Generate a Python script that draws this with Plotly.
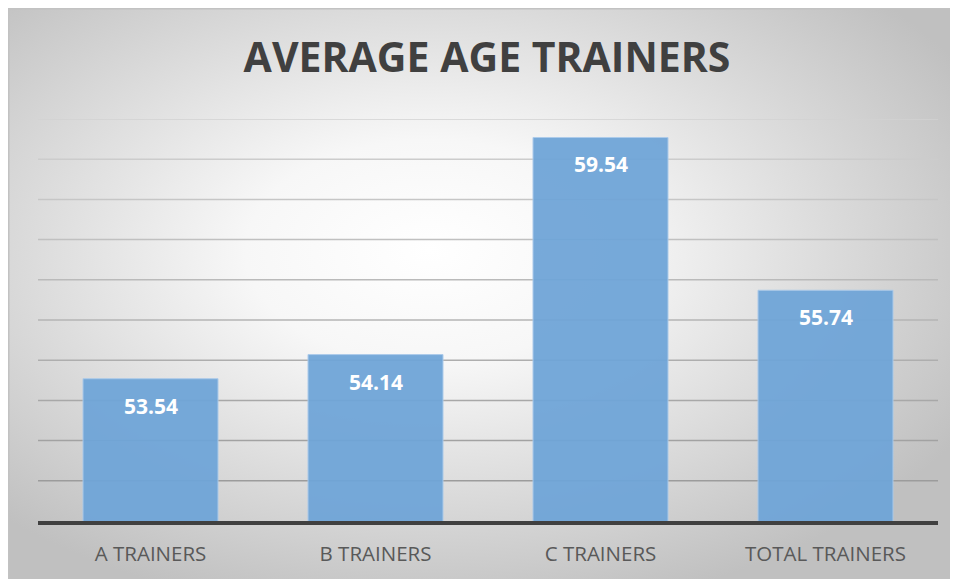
import base64
import plotly.graph_objects as go

categories = ["A TRAINERS", "B TRAINERS", "C TRAINERS", "TOTAL TRAINERS"]
avg_age = [53.54, 54.14, 59.54, 55.74]
labels = ["53.54", "54.14", "59.54", "55.74"]
title_text = "AVERAGE AGE TRAINERS"
y_min, y_max, y_step = 50, 60, 1

W, H = 958, 579
ml, mr, mt, mb = 30, 28, 111, 66
pw, ph = W - ml - mr, H - mt - mb

svg = f'''<svg xmlns="http://www.w3.org/2000/svg" width="{W}" height="{H}" viewBox="0 0 {W} {H}" preserveAspectRatio="none">
<defs><radialGradient id="g" cx="0.44" cy="0.42" r="0.64" fx="0.44" fy="0.42">
<stop offset="0" stop-color="#ffffff"/><stop offset="0.3" stop-color="#f7f7f7"/><stop offset="1" stop-color="#c0c0c0"/></radialGradient></defs>
<rect x="0" y="0" width="{W}" height="{H}" fill="url(#g)"/>
<path d="M0.75,{H} L0.75,0.75 L{W},0.75" stroke="#c2c2c2" stroke-width="1.5" fill="none"/></svg>'''
src = "data:image/svg+xml;base64," + base64.b64encode(svg.encode()).decode()

def px_x(v):
    return (v - ml) / pw

def px_y(v):
    return (H - mb - v) / ph

fig = go.Figure()

# gridlines (lighter toward the top, darker toward the bottom)
n_grid = int(round((y_max - y_min) / y_step))
for i in range(1, n_grid + 1):
    gv = y_min + i * y_step
    f = (i - 1) / max(n_grid - 1, 1)
    c = int(round(0x9c + (0xd2 - 0x9c) * f))
    fig.add_shape(type="line", xref="paper", yref="y", x0=0, x1=1, y0=gv, y1=gv,
                  line=dict(color=f"rgb({c},{c},{c})", width=1.5), layer="below")

fig.add_trace(go.Bar(
    x=categories, y=avg_age,
    marker=dict(color="#6fa5d8", line=dict(color="#a9c9ea", width=1)),
    opacity=0.94, width=0.6,
    hoverinfo="skip",
))

for c, v, t in zip(categories, avg_age, labels):
    fig.add_annotation(x=c, y=v, text=f"<b>{t}</b>", showarrow=False,
                       yanchor="middle", yshift=-27,
                       font=dict(family="Open Sans", size=21, color="white"))

fig.add_layout_image(dict(source=src, xref="paper", yref="paper",
                          x=px_x(0), y=px_y(0), sizex=px_x(W) - px_x(0),
                          sizey=px_y(0) - px_y(H), sizing="stretch",
                          xanchor="left", yanchor="top", layer="below"))

fig.update_layout(
    width=W, height=H,
    margin=dict(l=ml, r=mr, t=mt, b=mb),
    paper_bgcolor="#d0d0d0", plot_bgcolor="rgba(0,0,0,0)",
    showlegend=False,
    title=dict(text=f"<b>{title_text}</b>", x=0.5, xanchor="center", y=1 - 50 / H, yanchor="middle",
               font=dict(family="Open Sans", size=41, color="#404040")),
    xaxis=dict(showline=True, linecolor="#404040", linewidth=3.5, ticks="",
               tickfont=dict(family="Open Sans", size=20.5, color="#595959"),
               ticklabelstandoff=12,
               showgrid=False, fixedrange=True),
    yaxis=dict(range=[y_min, y_max], showticklabels=False,
               showgrid=False, zeroline=False, fixedrange=True),
    bargap=0.4,
)

fig.write_html("out.html", post_script="document.body.style.overflow='hidden';")
